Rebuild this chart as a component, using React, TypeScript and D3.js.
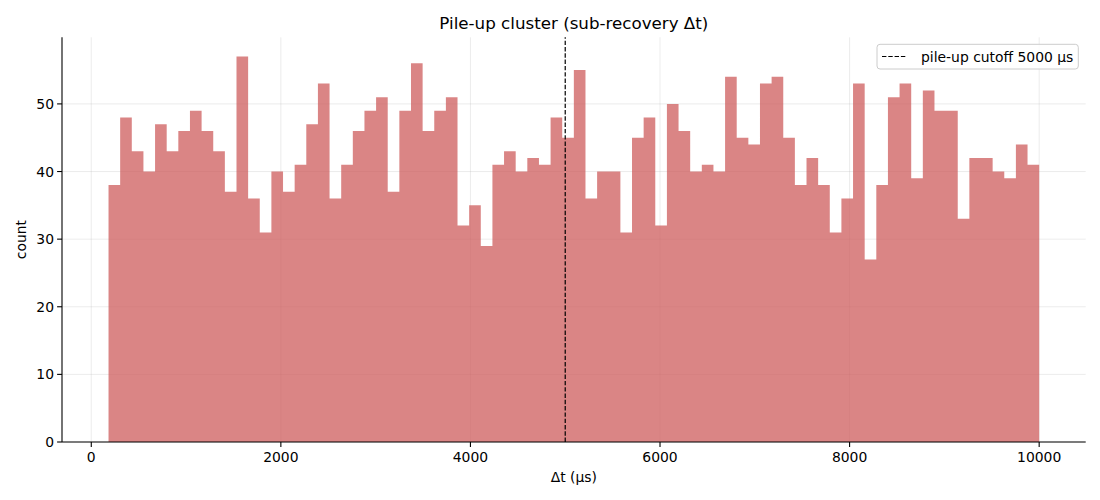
import React, { useEffect } from 'react'
import * as d3 from 'd3'

// histogram counts, 80 equal-width bins between binStart and binEnd (µs)
const binStart = 182
const binEnd = 10000
const counts = [
	38, 48, 43, 40, 47, 43, 46, 49, 46, 43, 37, 57, 36, 31, 40, 37, 41, 47, 53, 36,
	41, 46, 49, 51, 37, 49, 56, 46, 49, 51, 32, 35, 29, 41, 43, 40, 42, 41, 48, 45,
	55, 36, 40, 40, 31, 45, 48, 32, 50, 46, 40, 41, 40, 54, 45, 44, 53, 54, 45, 38,
	42, 38, 31, 36, 53, 27, 38, 51, 53, 39, 52, 49, 49, 33, 42, 42, 40, 39, 44, 41
]
const xTicks = [0, 2000, 4000, 6000, 8000, 10000]
const yTicks = [0, 10, 20, 30, 40, 50]
const cutoff = 5000
const legendLabel = 'pile-up cutoff 5000 μs'

const W = 1100
const H = 500
const margin = { left: 62, right: 14.3, top: 37.3, bottom: 58 }
const font = 'DejaVu Sans, sans-serif'

const App = () => {
	useEffect(() => {
		document.body.style.margin = '0'
	}, [])

	const binW = (binEnd - binStart) / counts.length
	const pad = (binEnd - binStart) * 0.05
	const x = d3
		.scaleLinear()
		.domain([binStart - pad, binEnd + pad])
		.range([margin.left, W - margin.right])
	const yMax = (d3.max(counts) as number) * 1.05
	const y = d3
		.scaleLinear()
		.domain([0, yMax])
		.range([H - margin.bottom, margin.top])

	const x0 = margin.left
	const x1 = W - margin.right
	const y0 = H - margin.bottom
	const y1 = margin.top

	// one outline for all bars so neighbouring bins don't show seams
	const p = d3.path()
	p.moveTo(x(binStart), y0)
	counts.forEach((c, i) => {
		p.lineTo(x(binStart + i * binW), y(c))
		p.lineTo(x(binStart + (i + 1) * binW), y(c))
	})
	p.lineTo(x(binEnd), y0)
	p.closePath()

	return (
		<svg width={W} height={H} style={{ display: 'block', background: '#fff' }}>
			{/* grid */}
			<g stroke="#b0b0b0" strokeOpacity={0.3} strokeWidth={0.8}>
				{xTicks.map((t) => (
					<line key={'gx' + t} x1={x(t)} x2={x(t)} y1={y0} y2={y1} />
				))}
				{yTicks.map((t) => (
					<line key={'gy' + t} x1={x0} x2={x1} y1={y(t)} y2={y(t)} />
				))}
			</g>
			{/* bars */}
			<path d={p.toString()} fill="#cd5c5c" fillOpacity={0.75} />
			{/* cutoff line */}
			<line
				x1={x(cutoff)}
				x2={x(cutoff)}
				y1={y0}
				y2={y1}
				stroke="#000"
				strokeWidth={1.2}
				strokeDasharray="4.4,1.9"
			/>
			{/* spines */}
			<line x1={x0} x2={x0} y1={y0} y2={y1} stroke="#000" strokeWidth={1.1} />
			<line x1={x0} x2={x1} y1={y0} y2={y0} stroke="#000" strokeWidth={1.1} />
			{/* ticks */}
			<g fontFamily={font} fontSize={13.9} fill="#000">
				{xTicks.map((t) => (
					<g key={'tx' + t}>
						<line x1={x(t)} x2={x(t)} y1={y0} y2={y0 + 4.9} stroke="#000" strokeWidth={1.1} />
						<text x={x(t)} y={y0 + 19.5} textAnchor="middle">
							{t}
						</text>
					</g>
				))}
				{yTicks.map((t) => (
					<g key={'ty' + t}>
						<line x1={x0} x2={x0 - 4.9} y1={y(t)} y2={y(t)} stroke="#000" strokeWidth={1.1} />
						<text x={x0 - 8} y={y(t) + 5} textAnchor="end">
							{t}
						</text>
					</g>
				))}
				<text x={(x0 + x1) / 2} y={482} textAnchor="middle">
					Δt (μs)
				</text>
				<text transform={`translate(26,${(y0 + y1) / 2}) rotate(-90)`} textAnchor="middle">
					count
				</text>
			</g>
			{/* title */}
			<text
				x={(x0 + x1) / 2}
				y={29}
				textAnchor="middle"
				fontFamily={font}
				fontSize={16.7}
				fill="#000"
			>
				Pile-up cluster (sub-recovery Δt)
			</text>
			{/* legend */}
			<g fontFamily={font} fontSize={13.9}>
				<rect
					x={877}
					y={44.3}
					width={201.3}
					height={24.7}
					rx={3}
					fill="#fff"
					fillOpacity={0.8}
					stroke="#cccccc"
					strokeWidth={1}
				/>
				<line
					x1={882}
					x2={907}
					y1={56.5}
					y2={56.5}
					stroke="#000"
					strokeWidth={1.2}
					strokeDasharray="4.4,1.9"
				/>
				<text x={921} y={61.5} fill="#000">
					{legendLabel}
				</text>
			</g>
		</svg>
	)
}

export default App
